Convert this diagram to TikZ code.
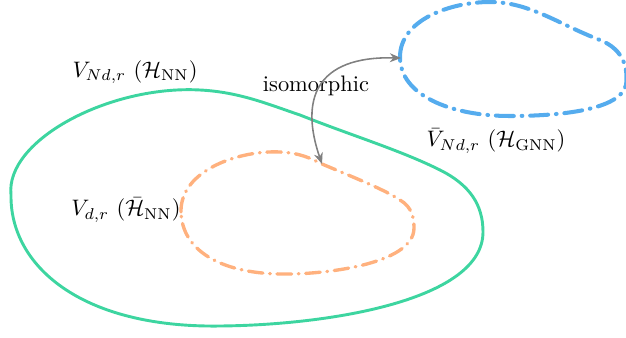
\documentclass[tikz,border=0pt]{standalone}
\usetikzlibrary{arrows.meta}
\definecolor{setgreen}{HTML}{3DD5A0}
\definecolor{setorange}{HTML}{FFB17E}
\definecolor{setblue}{HTML}{55ACEE}
\definecolor{linkgray}{HTML}{808080}
\tikzset{
  region/.style={draw=#1, line width=1.3pt, line join=round},
  dashregion/.style={draw=#1, line width=1.5pt, line cap=round,
    dash pattern=on 6.5pt off 3pt on 0.3pt off 3pt},
  link/.style={linkgray, line width=0.7pt,
    {Stealth[length=5pt,width=4pt]}-{Stealth[length=5pt,width=4pt]}},
  setlabel/.style={inner sep=1pt}
}

\begin{document}
\begin{tikzpicture}[x=0.446pt, y=-0.446pt]
\useasboundingbox (0,0) rectangle (626,337);

%--- Sets ---

% Outer set V_{Nd,r}
\draw[region=setgreen] (11,195)
  .. controls (5,140) and (110,85) .. (200,90)
  .. controls (240,92) and (270,105) .. (300,115)
  .. controls (350,135) and (400,150) .. (440,170)
  .. controls (470,185) and (483,205) .. (483,232)
  .. controls (483,300) and (330,325) .. (220,326)
  .. controls (80,328) and (10,265) .. cycle;

% Inner set V_{d,r}
\draw[dashregion=setorange] (181,212)
  .. controls (180,170) and (240,150) .. (280,152)
  .. controls (300,153) and (310,158) .. (322,164)
  .. controls (360,180) and (385,190) .. (400,200)
  .. controls (412,207) and (414,218) .. (414,228)
  .. controls (414,265) and (320,275) .. (280,274)
  .. controls (220,273) and (182,250) .. cycle;

% GNN set
\draw[dashregion=setblue, line width=1.8pt,
      dash pattern=on 8pt off 3.5pt on 0.3pt off 3.5pt] (400,57)
  .. controls (400,20) and (450,2) .. (490,2)
  .. controls (530,2) and (560,25) .. (600,40)
  .. controls (625,50) and (628,70) .. (626,85)
  .. controls (620,110) and (560,116) .. (510,116)
  .. controls (450,116) and (400,95) .. cycle;

%--- Labels ---

\node[setlabel] (lblNN)  at (135,72)  {$V_{Nd,r}$ ($\mathcal{H}_{\mathrm{NN}}$)};
\node[setlabel] (lblGNN) at (496,141) {$\bar{V}_{Nd,r}$ ($\mathcal{H}_{\mathrm{GNN}}$)};
\node[setlabel] (lblsub) at (126,210) {$V_{d,r}$ ($\bar{\mathcal{H}}_{\mathrm{NN}}$)};
\node[setlabel] (lbliso) at (316,86)  {isomorphic};

%--- Isomorphism ---

\coordinate (isoA) at (322,164);
\coordinate (isoB) at (401,58);
\draw[link] (isoA) .. controls (300,100) and (315,56) .. (isoB);

\end{tikzpicture}
\end{document}
